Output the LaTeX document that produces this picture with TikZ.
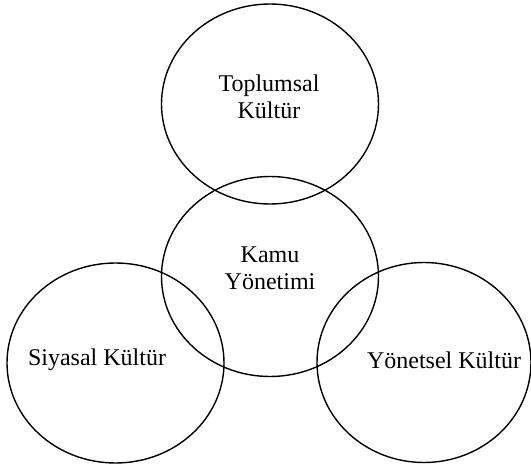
\documentclass[tikz,border=0pt]{standalone}
\usepackage{fontspec}
\setmainfont{Liberation Serif}
\usetikzlibrary{shapes.geometric}
\tikzset{bubble/.style={ellipse,draw,line width=0.7pt,inner sep=0pt,minimum width=108.5pt,minimum height=100pt}}
\tikzset{label text/.style={align=center,inner sep=0pt,font=\fontsize{12}{13.4}\selectfont}}

\begin{document}
\begin{tikzpicture}[x=0.5pt,y=-0.5pt]
        \useasboundingbox (0,0) rectangle (531,465);
        % the four circles
        \node[bubble] (toplum) at (270,104) {};
        \node[bubble] (kamu) at (270,276.5) {};
        \node[bubble] (siyasal) at (115.5,363) {};
        \node[bubble,minimum width=107pt] (yonetsel) at (424,362.5) {};
        % texts
        \node[label text] (toplumT) at (269,97) {Toplumsal\\Kültür};
        \node[label text] (kamuT) at (270,268) {Kamu\\Yönetimi};
        \node[label text] (siyasalT) at (97,360) {Siyasal Kültür};
        \node[label text] (yonetselT) at (444,360) {Yönetsel Kültür};
      \end{tikzpicture}
\end{document}
